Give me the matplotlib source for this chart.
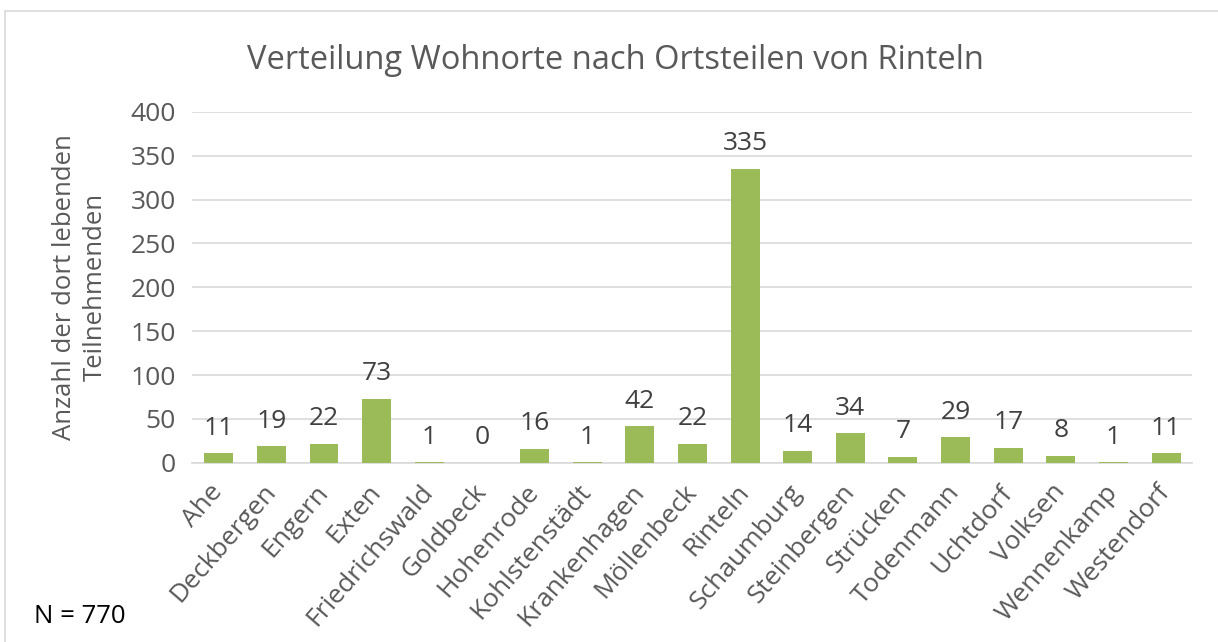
import numpy as np
import matplotlib.pyplot as plt
from matplotlib.patches import Rectangle

# DATA
orte = ['Ahe', 'Deckbergen', 'Engern', 'Exten', 'Friedrichswald', 'Goldbeck',
        'Hohenrode', 'Kohlstenstädt', 'Krankenhagen', 'Möllenbeck', 'Rinteln',
        'Schaumburg', 'Steinbergen', 'Strücken', 'Todenmann', 'Uchtdorf',
        'Volksen', 'Wennenkamp', 'Westendorf']
anzahl = [11, 19, 22, 73, 1, 0, 16, 1, 42, 22, 335, 14, 34, 7, 29, 17, 8, 1, 11]
yticks = [0, 50, 100, 150, 200, 250, 300, 350, 400]

plt.rcParams['font.family'] = ['Open Sans', 'DejaVu Sans']
grey = '#595959'

fig = plt.figure(figsize=(12.18, 6.42), dpi=100)
ax = fig.add_axes([0.158, 0.279, 0.821, 0.547])

x = np.arange(len(orte))
bars = ax.bar(x, anzahl, width=0.55, color='#9BBB59', zorder=3)

# value labels above bars
for xi, v in zip(x, anzahl):
    ax.annotate(str(v), (xi, v), xytext=(0, 9), textcoords='offset points',
                ha='center', va='bottom', fontsize=19, color='#404040')

ax.set_xlim(-0.5, len(orte) - 0.5)
ax.set_ylim(0, 400)
ax.set_yticks(yticks)
ax.yaxis.grid(True, color='#D9D9D9', linewidth=1.2, zorder=0)
ax.set_axisbelow(True)
for s in ['top', 'right', 'left']:
    ax.spines[s].set_visible(False)
ax.spines['bottom'].set_color('#D9D9D9')
ax.spines['bottom'].set_linewidth(1.2)
ax.tick_params(axis='both', length=0, colors=grey, labelsize=19)
ax.tick_params(axis='y', pad=12)

ax.set_xticks(x)
ax.set_xticklabels(orte, rotation=49, ha='right', va='center',
                   rotation_mode='anchor', fontsize=19, color=grey)
ax.tick_params(axis='x', pad=18)

ax.set_ylabel('Anzahl der dort lebenden\nTeilnehmenden', fontsize=18.5, color=grey,
              labelpad=16, linespacing=1.3)

fig.text(0.505, 0.905, 'Verteilung Wohnorte nach Ortsteilen von Rinteln',
         ha='center', va='center', fontsize=23.5, color=grey)
fig.text(0.028, 0.04, 'N = 770', ha='left', va='center', fontsize=18.5, color='black')

# chart border
fig.patches.append(Rectangle((0.004, -0.01), 1.0, 0.993, transform=fig.transFigure,
                             fill=False, edgecolor='#D9D9D9', linewidth=1.2))

fig.savefig('out.png', dpi=100)
